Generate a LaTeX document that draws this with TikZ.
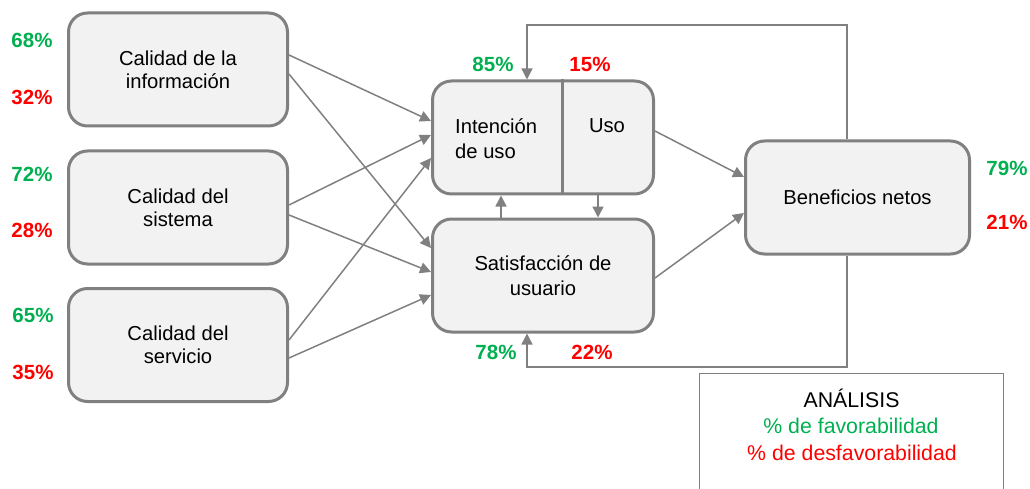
\documentclass[tikz,border=0pt]{standalone}
\usepackage{fontspec}
\setmainfont{Liberation Sans}
\usetikzlibrary{arrows.meta}
\definecolor{boxfill}{RGB}{242,242,242}
\definecolor{boxline}{RGB}{128,128,128}
\definecolor{pgreen}{RGB}{0,176,80}
\definecolor{pred}{RGB}{255,0,0}
\tikzset{
  bigbox/.style={draw=boxline, line width=3pt, fill=boxfill, rounded corners=19pt,
    minimum width=219pt, minimum height=113pt, inner sep=0pt, align=center,
    font=\fontsize{20.2}{23}\selectfont, text=black},
  conn/.style={draw=boxline, line width=1.5pt, -{Triangle[length=11pt,width=11pt]}},
  fb/.style={draw=boxline, line width=1.3pt, -{Triangle[length=11pt,width=11pt]}},
  pctg/.style={font=\fontsize{20.5}{24}\bfseries\selectfont, text=pgreen, inner sep=0pt},
  pctr/.style={font=\fontsize{20.5}{24}\bfseries\selectfont, text=pred, inner sep=0pt},
  plain/.style={font=\fontsize{20.2}{25}\selectfont, inner sep=0pt, text=black},
  legtext/.style={font=\fontsize{21.3}{25}\selectfont, inner sep=0pt, text=black},
  legline/.style={draw=boxline, line width=1pt},
}
\begin{document}
\begin{tikzpicture}[x=1pt,y=-1pt]
\useasboundingbox (0,0) rectangle (1030,489);
% left boxes
\node[bigbox] (ci) at (178,69.5) {Calidad de la\\información};
\node[bigbox] (cs) at (178,207.5) {Calidad del\\sistema};
\node[bigbox] (cv) at (178,345) {Calidad del\\servicio};
% middle boxes
\node[bigbox, minimum width=221pt] (iu) at (543,137.5) {};
\draw[boxline, line width=3pt] (iu.north -| 562,0) coordinate (dtop) -- (iu.south -| 562,0) coordinate (dbot);
\node[plain, align=left, anchor=west] (intt) at (455,138.5) {Intención\\de uso};
\node[plain] (usot) at (607,126) {Uso};
\node[bigbox, minimum width=221pt, font=\fontsize{20.2}{25}\selectfont] (su) at (543,275.5) {Satisfacción de\\usuario};
% right box
\node[bigbox, minimum width=224pt] (bn) at (857.5,197.5) {Beneficios netos};
% connectors from left boxes
\draw[conn] ([yshift=14.5pt]ci.east) -- ([yshift=16.5pt]iu.west);
\draw[conn] ([yshift=-4.5pt]ci.east) -- ([yshift=27.5pt]su.west);
\draw[conn] ([yshift=2.5pt]cs.east) -- ([yshift=2.5pt]iu.west);
\draw[conn] ([yshift=-7.5pt]cs.east) -- ([yshift=3.5pt]su.west);
\draw[conn] ([yshift=5pt]cv.east) -- ([yshift=-20.5pt]iu.west);
\draw[conn] ([yshift=-13pt]cv.east) -- ([yshift=-19.5pt]su.west);
% between middle boxes
\draw[conn] ([xshift=-42pt]su.north) -- ([xshift=-42pt]iu.south);
\draw[conn] ([xshift=55pt]iu.south) -- ([xshift=55pt]su.north);
% to beneficios
\draw[conn] ([yshift=6.5pt]iu.east) -- ([yshift=20.5pt]bn.west);
\draw[conn] ([yshift=-2.5pt]su.east) -- ([yshift=-15.5pt]bn.west);
% feedback loops
\coordinate (fbt) at (527,25);
\coordinate (fbb) at (527,367);
\draw[fb] ([xshift=-10.5pt]bn.north) |- (fbt) -- ([xshift=-16pt]iu.north);
\draw[fb] ([xshift=-10.5pt]bn.south) |- (fbb) -- ([xshift=-16pt]su.south);
% percentages
\node[pctg] (p68) at (32,40) {68\%};
\node[pctr] (p32) at (32,97) {32\%};
\node[pctg] (p72) at (32,174) {72\%};
\node[pctr] (p28) at (32,230) {28\%};
\node[pctg] (p65) at (33,315) {65\%};
\node[pctr] (p35) at (33,372) {35\%};
\node[pctg] (p85) at (493,64) {85\%};
\node[pctr] (p15) at (590,64) {15\%};
\node[pctg] (p78) at (496,352) {78\%};
\node[pctr] (p22) at (592,352) {22\%};
\node[pctg] (p79) at (1007,168) {79\%};
\node[pctr] (p21) at (1007,222) {21\%};
% legend
\draw[legline] (699,490) -- (699,373.5) -- (1003,373.5) -- (1003,490);
\node[legtext] (lg1) at (851.5,398) {ANÁLISIS};
\node[legtext, text=pgreen] (lg2) at (851,426) {\% de favorabilidad};
\node[legtext, text=pred] (lg3) at (852,453) {\% de desfavorabilidad};
\end{tikzpicture}
\end{document}
